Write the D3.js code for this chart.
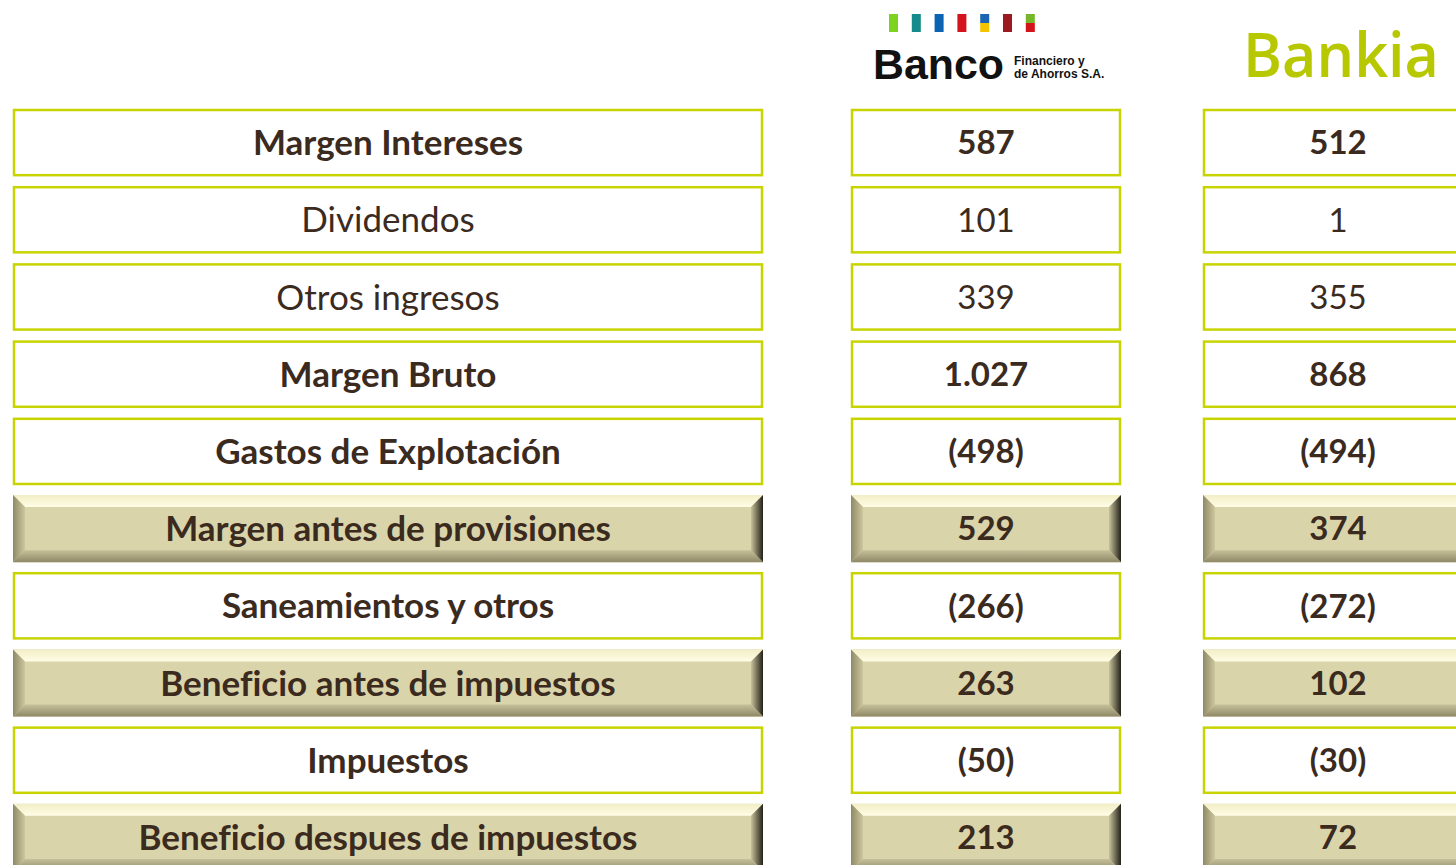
<!DOCTYPE html>
<meta charset="utf-8">
<script src="https://d3js.org/d3.v7.min.js"></script>
<style>
  body { margin: 0; background: #fff; }
</style>
<div id="chart"></div>
<script>

// rows of the income statement
var labels = ["Margen Intereses", "Dividendos", "Otros ingresos", "Margen Bruto", "Gastos de Explotación",
  "Margen antes de provisiones", "Saneamientos y otros", "Beneficio antes de impuestos", "Impuestos",
  "Beneficio despues de impuestos"];
var bancoValues = ["587", "101", "339", "1.027", "(498)", "529", "(266)", "263", "(50)", "213"];
var bankiaValues = ["512", "1", "355", "868", "(494)", "374", "(272)", "102", "(30)", "72"];
var boldRows = [true, false, false, true, true, true, true, true, true, true];
var subtotalRows = [false, false, false, false, false, true, false, true, false, true];
var logoBars = [["#7ed321", "#7ed321"], ["#178a8c", "#178a8c"], ["#0b63b1", "#0b63b1"], ["#d3141c", "#d3141c"],
  ["#1a66b3", "#f4c400"], ["#9c1a1f", "#9c1a1f"], ["#76b72a", "#d3141c"]];

var W = 1456, H = 865;
var textColor = "#3b2a1e", lineColor = "#c8d400";

var svg = d3.select("#chart").append("svg")
  .attr("width", W).attr("height", H)
  .style("font-family", "Lato, 'Open Sans', sans-serif")
  .style("font-variant-ligatures", "none");

var defs = svg.append("defs");
function grad(id, x1, y1, x2, y2, c1, c2) {
  var g = defs.append("linearGradient").attr("id", id)
    .attr("x1", x1).attr("y1", y1).attr("x2", x2).attr("y2", y2);
  g.append("stop").attr("offset", "0%").attr("stop-color", c1);
  g.append("stop").attr("offset", "100%").attr("stop-color", c2);
}
grad("bvTop", 0, 0, 0, 1, "#f2eec6", "#fffde6");
grad("bvLeft", 0, 0, 1, 0, "#8f8a66", "#cdc79e");
grad("bvRight", 0, 0, 1, 0, "#c8c29a", "#23211a");
grad("bvBottom", 0, 0, 0, 1, "#c6c09a", "#8e8866");

// row scale
var y = d3.scaleBand()
  .domain(labels)
  .range([109, 871])
  .paddingInner(0.13);

// columns
var columns = [
  {x: 13, w: 750, values: labels, size: 35},
  {x: 851, w: 270, values: bancoValues, size: 33},
  {x: 1203, w: 270, values: bankiaValues, size: 33}
];

var bev = 12;
columns.forEach(function(col) {
  var g = svg.append("g");
  var cell = g.selectAll("g").data(labels).enter().append("g")
    .attr("transform", function(d) { return "translate(" + col.x + "," + y(d) + ")"; });

  cell.each(function(d, i) {
    var c = d3.select(this), w = col.w, h = y.bandwidth();
    if (subtotalRows[i]) {
      c.append("rect").attr("width", w).attr("height", h).attr("fill", "#dad4aa");
      c.append("polygon").attr("points", [[0,0],[w,0],[w-bev,bev],[bev,bev]].join(" ")).attr("fill", "url(#bvTop)");
      c.append("polygon").attr("points", [[0,0],[bev,bev],[bev,h-bev],[0,h]].join(" ")).attr("fill", "url(#bvLeft)");
      c.append("polygon").attr("points", [[w,0],[w,h],[w-bev,h-bev],[w-bev,bev]].join(" ")).attr("fill", "url(#bvRight)");
      c.append("polygon").attr("points", [[0,h],[bev,h-bev],[w-bev,h-bev],[w,h]].join(" ")).attr("fill", "url(#bvBottom)");
    } else {
      c.append("rect").attr("x", 1).attr("y", 1).attr("width", w - 2).attr("height", h - 2)
        .attr("fill", "#fff").attr("stroke", lineColor).attr("stroke-width", 2.5);
    }
    c.append("text")
      .attr("x", w / 2).attr("y", h / 2 + col.size * 0.36)
      .attr("text-anchor", "middle")
      .attr("font-size", col.size)
      .attr("font-weight", boldRows[i] ? 700 : 400)
      .attr("fill", textColor)
      .text(col.values[i]);
  });
});

// Banco Financiero y de Ahorros logo
var logo = svg.append("g");
logo.selectAll("g.bar").data(logoBars).enter().append("g").each(function(d, i) {
  var bx = 889 + i * 22.8;
  d3.select(this).append("rect").attr("x", bx).attr("y", 14).attr("width", 9).attr("height", 9).attr("fill", d[0]);
  d3.select(this).append("rect").attr("x", bx).attr("y", 23).attr("width", 9).attr("height", 9).attr("fill", d[1]);
});
logo.append("text").attr("x", 873).attr("y", 79)
  .style("font-family", "'Liberation Sans', Arial, sans-serif")
  .attr("font-size", 42).attr("font-weight", 700).attr("fill", "#111")
  .attr("textLength", 131).attr("lengthAdjust", "spacingAndGlyphs")
  .text("Banco");
logo.append("text").attr("x", 1014).attr("y", 65)
  .style("font-family", "'Liberation Sans', Arial, sans-serif")
  .attr("font-size", 12).attr("font-weight", 700).attr("fill", "#111")
  .text("Financiero y");
logo.append("text").attr("x", 1014).attr("y", 78)
  .style("font-family", "'Liberation Sans', Arial, sans-serif")
  .attr("font-size", 12).attr("font-weight", 700).attr("fill", "#111")
  .text("de Ahorros S.A.");

// Bankia logo
svg.append("text").attr("x", 1243).attr("y", 77)
  .style("font-family", "'Open Sans', sans-serif")
  .attr("font-size", 62).attr("font-weight", 600).attr("fill", "#b8c800")
  .attr("textLength", 196).attr("lengthAdjust", "spacingAndGlyphs")
  .text("Bankia");

</script>
